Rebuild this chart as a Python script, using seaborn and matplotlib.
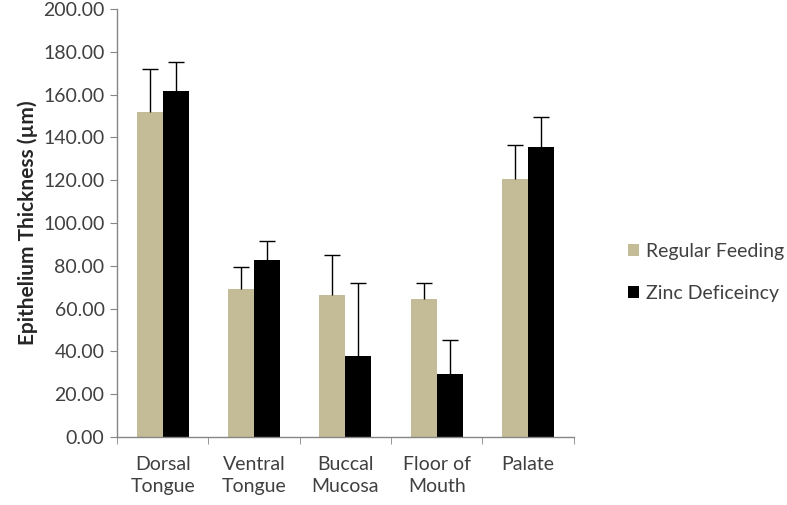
import pandas as pd
import numpy as np
import matplotlib.pyplot as plt
import seaborn as sns

sites = ["Dorsal\nTongue", "Ventral\nTongue", "Buccal\nMucosa", "Floor of\nMouth", "Palate"]
regular = [152.0, 69.0, 66.5, 64.5, 120.5]
regular_sd = [20.0, 10.5, 18.5, 7.5, 16.0]
zinc = [161.5, 82.5, 38.0, 29.5, 135.5]
zinc_sd = [14.0, 9.0, 34.0, 16.0, 14.0]
groups = ["Regular Feeding", "Zinc Deficeincy"]

df = pd.DataFrame({
    "site": sites * 2,
    "group": [groups[0]] * 5 + [groups[1]] * 5,
    "value": regular + zinc,
    "sd": regular_sd + zinc_sd,
})

sns.set_style("white")
plt.rcParams["font.family"] = ["Lato", "DejaVu Sans"]

fig = plt.figure(figsize=(7.87, 5.05), dpi=100)
ax = fig.add_axes([0.1487, 0.1347, 0.5803, 0.8473])

sns.barplot(data=df, x="site", y="value", hue="group", order=sites, hue_order=groups,
            palette=["#c4bc96", "#000000"], width=0.57, errorbar=None, ax=ax,
            saturation=1, linewidth=0)

# upper error bars only, one per bar
for cont, g in zip(ax.containers, groups):
    sub = df[df["group"] == g].set_index("site").loc[sites]
    xs = [p.get_x() + p.get_width() / 2 for p in cont]
    _, caps, _ = ax.errorbar(xs, sub["value"], yerr=[np.zeros(len(xs)), sub["sd"]], fmt="none",
                             ecolor="#000000", elinewidth=1, capsize=6, capthick=1)
    caps[0].remove()  # drop the cap sitting on the bar top

ax.set_ylim(0, 200)
ax.set_xlim(-0.5, 4.5)
ax.set_yticks(np.arange(0, 201, 20))
ax.set_yticklabels([f"{v:.2f}" for v in np.arange(0, 201, 20)])
ax.set_xticks(np.arange(-0.5, 5, 1), minor=True)
ax.tick_params(axis="x", which="major", length=0, pad=14, labelsize=14)
ax.tick_params(axis="x", which="minor", length=5, color="#868686", direction="out", bottom=True)
ax.tick_params(axis="y", length=5, color="#868686", direction="out", left=True, labelsize=14, pad=4)
for lbl in ax.get_xticklabels() + ax.get_yticklabels():
    lbl.set_color("#404040")
for lbl in ax.get_xticklabels():
    lbl.set_linespacing(1.3)

ax.set_xlabel("")
ax.set_ylabel("Epithelium Thickness (\u00b5m)", fontsize=15, fontweight="bold", labelpad=4)

sns.despine(ax=ax)
for s in ["left", "bottom"]:
    ax.spines[s].set_color("#868686")
    ax.spines[s].set_linewidth(1)

ax.legend(loc="center left", bbox_to_anchor=(1.08, 0.385), frameon=False,
          fontsize=14, handlelength=0.6, handleheight=0.6, handletextpad=0.35,
          labelspacing=1.3, labelcolor="#404040")

fig.savefig("out.png", dpi=100)
